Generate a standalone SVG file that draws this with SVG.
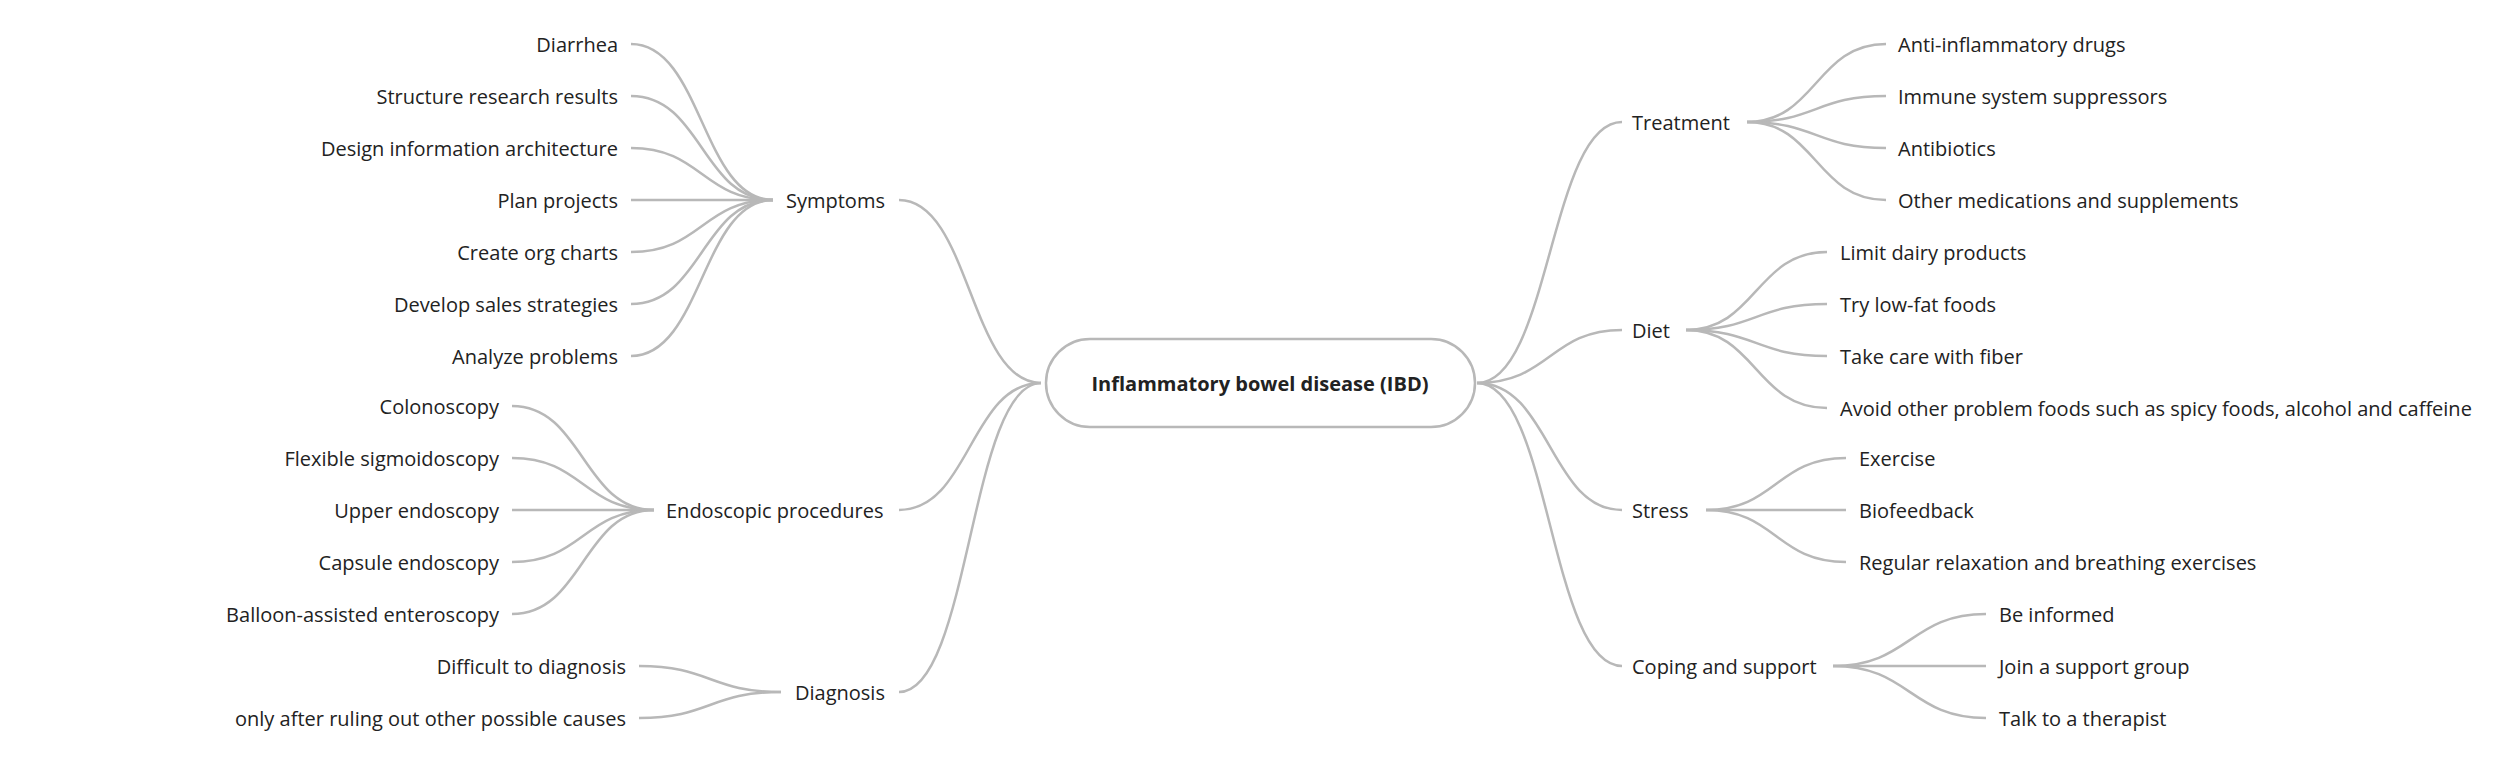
<svg xmlns="http://www.w3.org/2000/svg" width="2500" height="774" viewBox="0 0 2500 774">
<style>
text{font-family:"Open Sans","Noto Sans",sans-serif;font-size:20px;fill:#222;dominant-baseline:central}
.r{text-anchor:end}
.c path{fill:none;stroke:#b8b8b8;stroke-width:2.5}
</style>
<rect width="2500" height="774" fill="#fff"/>
<g class="c" id="connectors">
<path d="M1041 383 C970 383 970 200 899 200"/>
<path d="M1041 383 C970 383 970 510 899 510"/>
<path d="M1041 383 C970 383 970 692 899 692"/>
<path d="M773 200 C702 200 702 44 631 44"/>
<path d="M773 200 C702 200 702 96 631 96"/>
<path d="M773 200 C702 200 702 148 631 148"/>
<path d="M773 200 L631 200"/>
<path d="M773 200 C702 200 702 252 631 252"/>
<path d="M773 200 C702 200 702 304 631 304"/>
<path d="M773 200 C702 200 702 356 631 356"/>
<path d="M654 510 C583 510 583 406 512 406"/>
<path d="M654 510 C583 510 583 458 512 458"/>
<path d="M654 510 L512 510"/>
<path d="M654 510 C583 510 583 562 512 562"/>
<path d="M654 510 C583 510 583 614 512 614"/>
<path d="M781 692 C710 692 710 666 639 666"/>
<path d="M781 692 C710 692 710 718 639 718"/>
<path d="M1477 383 C1550 383 1550 122 1622 122"/>
<path d="M1477 383 C1550 383 1550 330 1622 330"/>
<path d="M1477 383 C1550 383 1550 510 1622 510"/>
<path d="M1477 383 C1550 383 1550 666 1622 666"/>
<path d="M1747 122 C1816 122 1816 44 1886 44"/>
<path d="M1747 122 C1816 122 1816 96 1886 96"/>
<path d="M1747 122 C1816 122 1816 148 1886 148"/>
<path d="M1747 122 C1816 122 1816 200 1886 200"/>
<path d="M1686 330 C1756 330 1756 252 1827 252"/>
<path d="M1686 330 C1756 330 1756 304 1827 304"/>
<path d="M1686 330 C1756 330 1756 356 1827 356"/>
<path d="M1686 330 C1756 330 1756 408 1827 408"/>
<path d="M1706 510 C1776 510 1776 458 1846 458"/>
<path d="M1706 510 L1846 510"/>
<path d="M1706 510 C1776 510 1776 562 1846 562"/>
<path d="M1833 666 C1910 666 1910 614 1986 614"/>
<path d="M1833 666 L1986 666"/>
<path d="M1833 666 C1910 666 1910 718 1986 718"/>
</g>
<g id="root"><rect x="1046" y="339" width="429" height="88" rx="44" fill="#fff" stroke="#b8b8b8" stroke-width="2.5"/><text x="1260" y="383" text-anchor="middle" font-weight="bold">Inflammatory bowel disease (IBD)</text></g>
<g id="symptoms"><text x="786" y="200">Symptoms</text></g>
<g id="s1"><text class="r" x="618" y="44">Diarrhea</text></g>
<g id="s2"><text class="r" x="618" y="96">Structure research results</text></g>
<g id="s3"><text class="r" x="618" y="148">Design information architecture</text></g>
<g id="s4"><text class="r" x="618" y="200">Plan projects</text></g>
<g id="s5"><text class="r" x="618" y="252">Create org charts</text></g>
<g id="s6"><text class="r" x="618" y="304">Develop sales strategies</text></g>
<g id="s7"><text class="r" x="618" y="356">Analyze problems</text></g>
<g id="endo"><text x="666" y="510">Endoscopic procedures</text></g>
<g id="e1"><text class="r" x="499" y="406">Colonoscopy</text></g>
<g id="e2"><text class="r" x="499" y="458">Flexible sigmoidoscopy</text></g>
<g id="e3"><text class="r" x="499" y="510">Upper endoscopy</text></g>
<g id="e4"><text class="r" x="499" y="562">Capsule endoscopy</text></g>
<g id="e5"><text class="r" x="499" y="614">Balloon-assisted enteroscopy</text></g>
<g id="diag"><text x="795" y="692">Diagnosis</text></g>
<g id="d1"><text class="r" x="626" y="666">Difficult to diagnosis</text></g>
<g id="d2"><text class="r" x="626" y="718">only after ruling out other possible causes</text></g>
<g id="treat"><text x="1632" y="122">Treatment</text></g>
<g id="t1"><text x="1898" y="44">Anti-inflammatory drugs</text></g>
<g id="t2"><text x="1898" y="96">Immune system suppressors</text></g>
<g id="t3"><text x="1898" y="148">Antibiotics</text></g>
<g id="t4"><text x="1898" y="200">Other medications and supplements</text></g>
<g id="diet"><text x="1632" y="330">Diet</text></g>
<g id="di1"><text x="1840" y="252">Limit dairy products</text></g>
<g id="di2"><text x="1840" y="304">Try low-fat foods</text></g>
<g id="di3"><text x="1840" y="356">Take care with fiber</text></g>
<g id="di4"><text x="1840" y="408">Avoid other problem foods such as spicy foods, alcohol and caffeine</text></g>
<g id="stress"><text x="1632" y="510">Stress</text></g>
<g id="st1"><text x="1859" y="458">Exercise</text></g>
<g id="st2"><text x="1859" y="510">Biofeedback</text></g>
<g id="st3"><text x="1859" y="562">Regular relaxation and breathing exercises</text></g>
<g id="coping"><text x="1632" y="666">Coping and support</text></g>
<g id="c1"><text x="1999" y="614">Be informed</text></g>
<g id="c2"><text x="1999" y="666">Join a support group</text></g>
<g id="c3"><text x="1999" y="718">Talk to a therapist</text></g>
</svg>
